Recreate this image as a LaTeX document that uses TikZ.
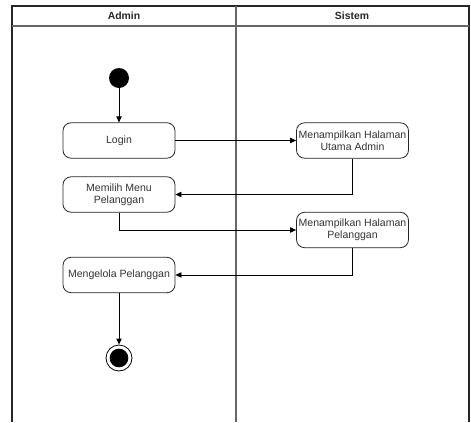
\documentclass[tikz,border=0pt]{standalone}
\usepackage{fontspec}
\setmainfont{Liberation Sans}
\usetikzlibrary{arrows.meta}
\begin{document}
\begin{tikzpicture}[x=0.75pt,y=-0.75pt,
  lane/.style={draw=black!85,line width=0.8pt},
  act/.style={draw=black!85,rounded corners=6pt,line width=0.6pt,minimum width=84pt,minimum height=26.5pt,align=center,font=\fontsize{7.9}{9.2}\selectfont,text=black!80,inner sep=1pt},
  flow/.style={draw=black,line width=0.6pt,-{Triangle[length=4.5pt,width=4pt]}},
  hdr/.style={font=\bfseries\fontsize{7.8}{9}\selectfont,text=black!85}]
\useasboundingbox (0,0) rectangle (471,422);
\fill[white] (0,0) rectangle (471,422);
% swimlanes
\draw[lane] (12,422) -- (12,6) -- (469,6) -- (469,422);
\draw[lane,draw=black!60] (12,26) -- (469,26);
\draw[lane,draw=black!60] (236,6) -- (236,422);
\node[hdr] (hA) at (124,16) {Admin};
\node[hdr] (hS) at (352,16) {Sistem};
% initial and final states
\node[circle,fill=black,minimum size=15pt,inner sep=0] (start) at (119,78) {};
\node[circle,draw=black,line width=0.6pt,minimum size=19.5pt,inner sep=0] (end) at (119,358) {};
\fill[black] (end.center) circle (7pt);
% activities
\node[act] (login) at (119,140.5) {Login};
\node[act] (utama) at (352.5,140.5) {Menampilkan Halaman\\Utama Admin};
\node[act] (menu) at (119,194.5) {Memilih Menu\\Pelanggan};
\node[act] (hpel) at (352.5,230) {Menampilkan Halaman\\Pelanggan};
\node[act] (kelola) at (119,275) {Mengelola Pelanggan};
% control flow
\draw[flow] (start) -- (login);
\draw[flow] (login) -- (utama);
\draw[flow] (utama.south) |- (menu.east);
\draw[flow] (menu.south) |- (hpel.west);
\draw[flow] (hpel.south) |- (kelola.east);
\draw[flow] (kelola) -- (end);
\end{tikzpicture}
\end{document}
